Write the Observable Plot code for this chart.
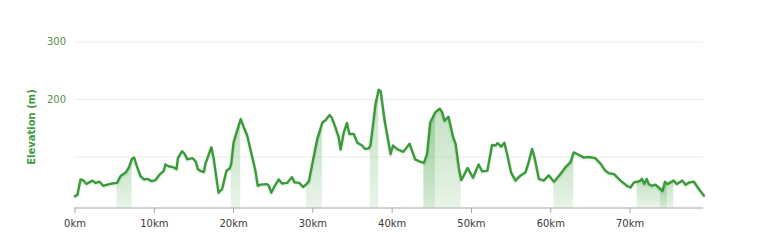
<!DOCTYPE html>
<html>
<head>
<meta charset="utf-8">
<script src="https://cdn.jsdelivr.net/npm/d3@7"></script>
<script src="https://cdn.jsdelivr.net/npm/@observablehq/plot@0.6"></script>
<style>
  html, body { margin: 0; padding: 0; background: #fff; }
  #chart svg { display: block; }
</style>
</head>
<body>
<div id="chart"></div>
<script>
// Distance along route (km)
const distanceKm = [
  0.0, 0.3, 0.7, 1.0, 1.45, 1.8, 2.2, 2.6, 3.1, 3.55, 4.1, 4.7, 5.3, 5.75, 6.4, 6.8, 7.2, 7.45, 7.85, 8.25,
  8.7, 9.1, 9.7, 10.15, 10.7, 11.2, 11.4, 11.8, 12.45, 12.8, 13.0, 13.5, 13.85, 14.15, 14.8, 15.2, 15.5, 15.8, 16.25, 16.45,
  17.2, 17.5, 18.1, 18.55, 19.1, 19.5, 19.7, 20.0, 20.25, 20.9, 21.3, 21.7, 22.35, 22.75, 23.05, 23.4, 24.2, 24.45, 24.75, 25.2,
  25.7, 26.1, 26.75, 27.35, 27.7, 28.3, 28.75, 29.2, 29.5, 30.0, 30.55, 31.2, 31.6, 32.1, 32.4, 32.85, 33.25, 33.5, 33.9, 34.3,
  34.6, 35.15, 35.6, 36.2, 36.6, 37.05, 37.25, 37.5, 37.9, 38.3, 38.55, 39.05, 39.8, 40.1, 40.6, 41.4, 42.2, 42.9, 43.5, 44.0,
  44.4, 44.8, 45.45, 46.0, 46.3, 46.6, 47.1, 47.7, 48.0, 48.4, 48.7, 49.0, 49.5, 50.2, 50.9, 51.35, 52.0, 52.6, 53.0, 53.3,
  53.75, 54.15, 54.5, 55.0, 55.55, 56.2, 56.8, 57.15, 57.65, 57.95, 58.5, 59.1, 59.75, 60.4, 61.2, 61.9, 62.5, 62.9, 63.5, 64.15,
  64.8, 65.6, 66.3, 66.9, 67.3, 68.0, 68.8, 69.6, 70.05, 70.5, 70.9, 71.3, 71.5, 71.8, 72.1, 72.35, 72.7, 73.2, 73.85, 74.1,
  74.4, 74.7, 75.1, 75.5, 75.9, 76.6, 77.0, 77.5, 78.05, 78.7, 79.3
];
// Elevation (m)
const elevationM = [
  32, 34, 61, 60, 53, 56, 59, 55, 57, 50, 52, 54, 55, 67, 73, 82, 97, 99, 82, 67,
  61, 62, 58, 60, 70, 76, 87, 84, 82, 79, 99, 110, 105, 96, 98, 93, 79, 76, 74, 88,
  117, 96, 38, 44, 76, 80, 88, 125, 137, 166, 151, 138, 100, 76, 50, 52, 53, 50, 38, 50,
  61, 54, 55, 65, 56, 55, 48, 53, 58, 93, 131, 160, 164, 173, 168, 151, 134, 113, 143, 159,
  140, 140, 125, 120, 114, 115, 120, 146, 192, 217, 214, 163, 105, 120, 114, 109, 123, 96, 92, 90,
  105, 160, 178, 184, 178, 163, 170, 134, 123, 82, 60, 67, 81, 64, 87, 75, 76, 121, 120, 124,
  118, 125, 105, 73, 59, 68, 73, 88, 114, 99, 62, 59, 68, 57, 70, 83, 91, 108, 104, 99,
  100, 98, 88, 76, 72, 70, 59, 50, 47, 56, 57, 59, 62, 53, 62, 53, 50, 52, 44, 41,
  57, 53, 56, 59, 53, 59, 52, 56, 57, 44, 33
];
// Highlighted (steep) stretches, km
const segStart = [5.3, 19.7, 29.2, 37.25, 44.0, 44.0, 60.4, 70.9, 73.85];
const segEnd   = [7.2, 20.9, 31.2, 38.3, 48.7, 45.45, 62.9, 75.5, 74.7];

const xTicks = [0, 10, 20, 30, 40, 50, 60, 70];
const yGrid = [100, 200, 300];
const yLabels = [200, 300];
const yDomain = [11.4, 300];
const xDomain = [0, 79.3];
const yTitle = "Elevation (m)";

const profile = distanceKm.map((d, i) => ({km: d, m: elevationM[i]}));
const shaded = [];
segStart.forEach((s, j) => {
  profile.forEach(p => { if (p.km >= s && p.km <= segEnd[j]) shaded.push({...p, seg: j}); });
});

const font = "'DejaVu Sans', Verdana, sans-serif";

const chart = Plot.plot({
  width: 774,
  height: 243,
  marginLeft: 74.5,
  marginRight: 70.7,
  marginTop: 41.5,
  marginBottom: 35.5,
  style: {fontFamily: font, fontSize: "10px", background: "#fff", overflow: "visible"},
  x: {domain: xDomain},
  y: {domain: yDomain},
  marks: [
    Plot.gridY(yGrid, {stroke: "#ececec", strokeOpacity: 1}),
    Plot.areaY(shaded, {x: "km", y1: yDomain[0], y2: "m", z: "seg", fill: "url(#shadeGrad)", curve: "linear"}),
    Plot.lineY(profile, {x: "km", y: "m", stroke: "#1a6b1a", strokeOpacity: 0.08, strokeWidth: 4.5, dy: 1}),
    Plot.lineY(profile, {x: "km", y: "m", stroke: "#3a9a3a", strokeWidth: 2.4, strokeLinejoin: "round"}),
    Plot.ruleY([yDomain[0]], {stroke: "#a6a6a6", strokeWidth: 1}),
    Plot.axisX({ticks: xTicks, tickFormat: d => `${d}km`, tickSize: 5.5, tickPadding: 6.5, stroke: "#a6a6a6", fill: "#3a3a3a", fontSize: 10, label: null}),
    Plot.axisY({ticks: yLabels, tickSize: 0, tickPadding: 9, fill: "#5a8f4a", fontSize: 10, label: null}),
    Plot.text([yTitle], {frameAnchor: "left", dx: -43, dy: 2, rotate: -90, fill: "#3d9a3d", fontWeight: "bold", fontSize: 10, textAnchor: "middle"})
  ]
});

// gradient for shaded stretches
const svg = d3.select(chart);
const defs = svg.insert("defs", ":first-child");
const grad = defs.append("linearGradient").attr("id", "shadeGrad").attr("x1", 0).attr("y1", 0).attr("x2", 0).attr("y2", 1);
grad.append("stop").attr("offset", "0%").attr("stop-color", "#43a343").attr("stop-opacity", 0.32);
grad.append("stop").attr("offset", "100%").attr("stop-color", "#43a343").attr("stop-opacity", 0.12);

document.getElementById("chart").appendChild(chart);
</script>
</body>
</html>
